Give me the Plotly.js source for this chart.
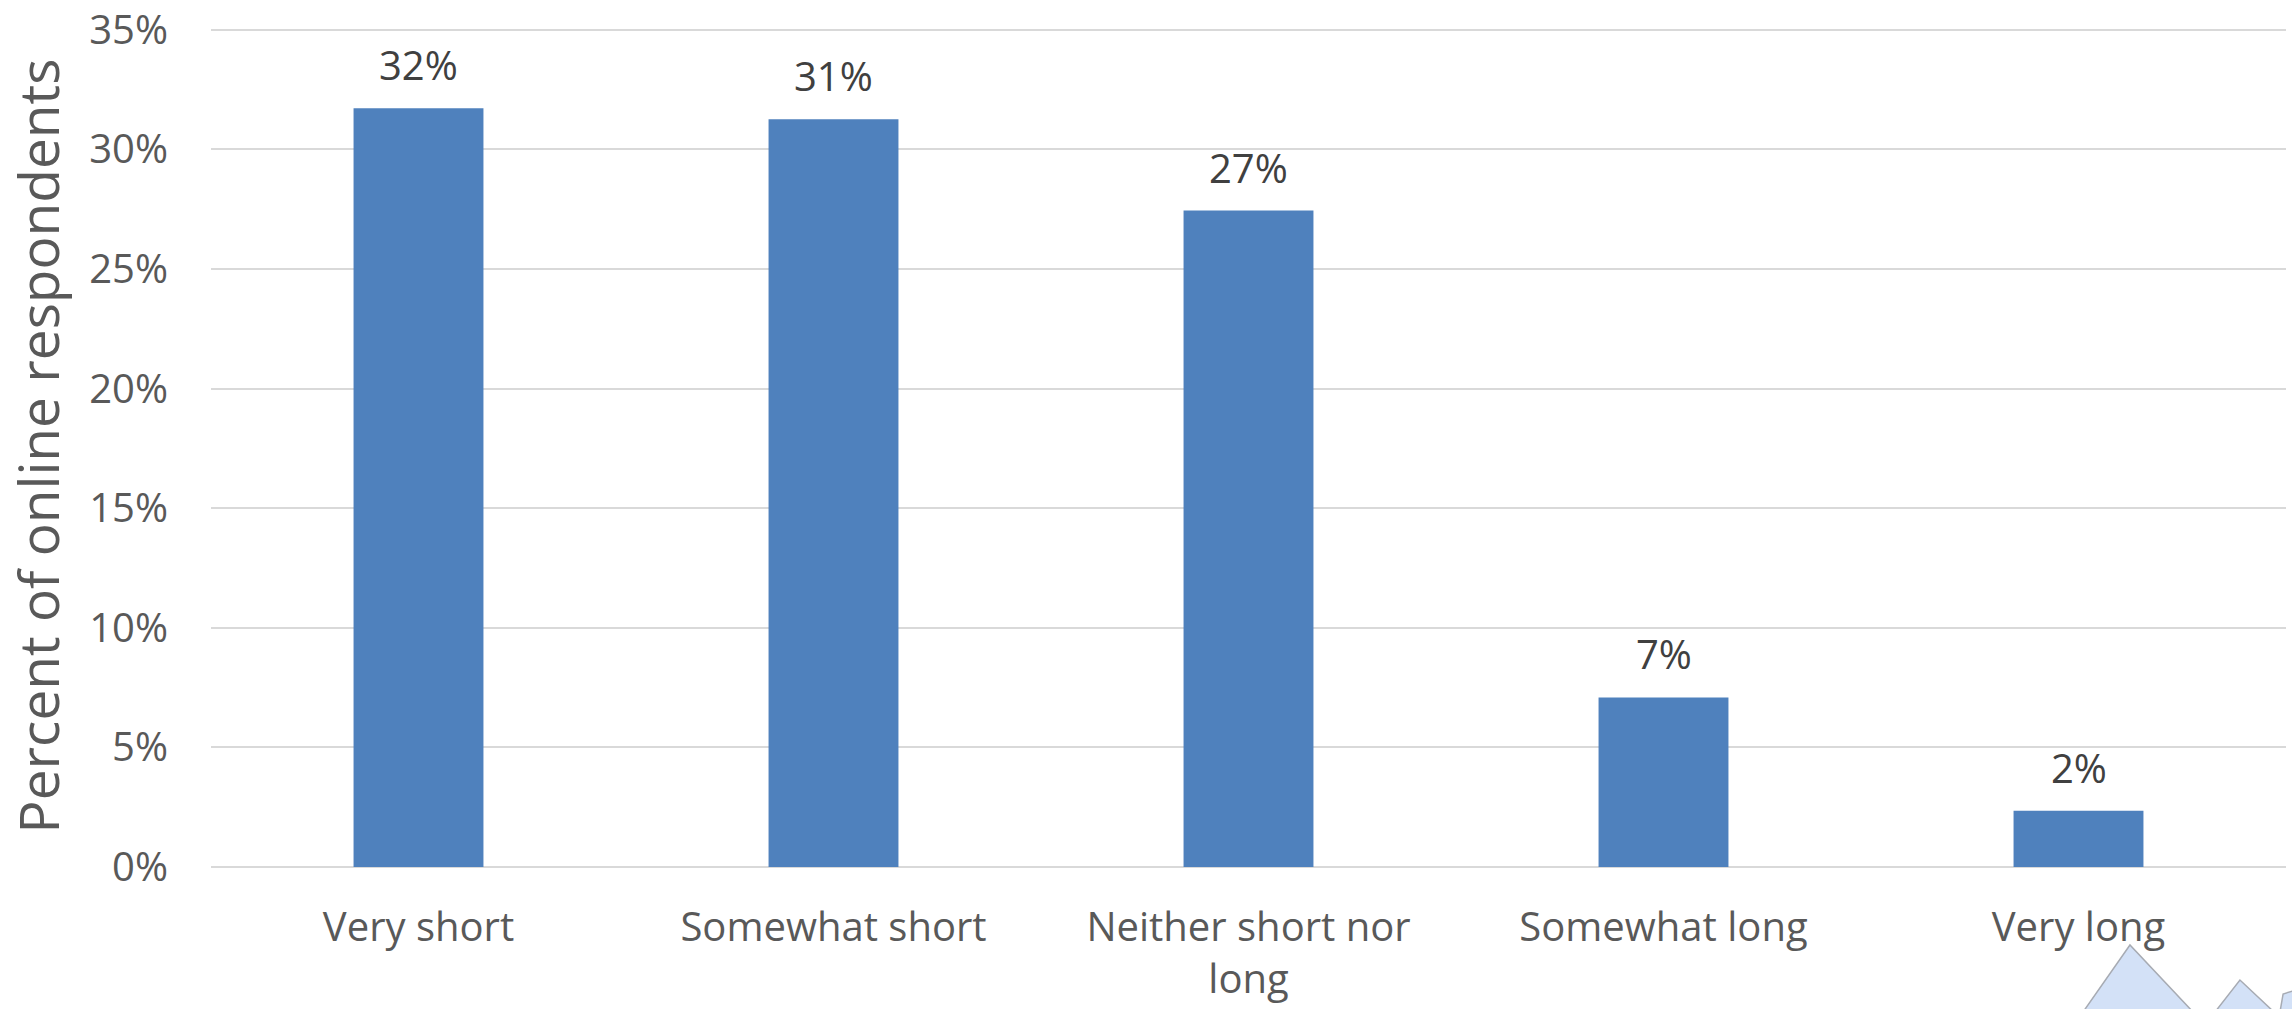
<!DOCTYPE html>
<html>
<head>
<meta charset="utf-8">
<script src="https://cdn.plot.ly/plotly-3.0.1.min.js"></script>
<style>
  html, body { margin: 0; padding: 0; background: #ffffff; }
  #chart { width: 2292px; height: 1009px; }
</style>
</head>
<body>
<div id="chart"></div>
<script>
// ---- data ----
const categories = ["Very short", "Somewhat short", "Neither short nor<br>long", "Somewhat long", "Very long"];
const percentValues = [0.3172, 0.3126, 0.2744, 0.0709, 0.0235];
const dataLabels = ["32%", "31%", "27%", "7%", "2%"];
const yTickValues = [0, 0.05, 0.10, 0.15, 0.20, 0.25, 0.30, 0.35];
const yTickLabels = ["0%", "5%", "10%", "15%", "20%", "25%", "30%", "35%"];
const yAxisTitle = "Percent of online respondents";

// ---- layout helpers ----
const W = 2292, H = 1009;
const M = { l: 211, r: 6, t: 25, b: 142 };
const plotW = W - M.l - M.r, plotH = H - M.t - M.b;
function px(x) { return (x - M.l) / plotW; }
function py(y) { return (H - M.b - y) / plotH; }
function pathFrom(pts) {
  return pts.map((p, i) => (i ? "L" : "M") + px(p[0]).toFixed(4) + "," + py(p[1]).toFixed(4)).join(" ") + " Z";
}

const FONT = "'Open Sans', 'Noto Sans', sans-serif";

const trace = {
  type: "bar",
  x: categories,
  y: percentValues,
  marker: { color: "#4F81BD", line: { width: 0 } },
  hoverinfo: "skip"
};

const annotations = categories.map((c, i) => ({
  x: c, y: percentValues[i], xref: "x", yref: "y",
  text: dataLabels[i], showarrow: false,
  yanchor: "bottom", yshift: 14,
  font: { family: FONT, size: 40, color: "#404040" }
}));

// decorative artifact bottom-right
const deco1 = pathFrom([[2083, 1012], [2130, 945], [2193, 1012]]);
const deco2 = pathFrom([[2215, 1012], [2240, 980], [2274, 1012]]);
const deco3 = pathFrom([[2280, 1012], [2283, 994], [2296, 990], [2296, 1012]]);
const decoStyle = { type: "path", xref: "paper", yref: "paper", fillcolor: "#D3E1F7",
  line: { color: "#A7ABB3", width: 1.5 }, layer: "above" };

const layout = {
  width: W, height: H,
  margin: M,
  paper_bgcolor: "#ffffff",
  plot_bgcolor: "#ffffff",
  showlegend: false,
  bargap: 0.687,
  font: { family: FONT, size: 40, color: "#595959" },
  xaxis: {
    type: "category",
    showgrid: false, zeroline: false, showline: false,
    ticks: "", ticklabelstandoff: 33,
    tickfont: { family: FONT, size: 40, color: "#595959" },
    automargin: false
  },
  yaxis: {
    range: [0, 0.352],
    tickvals: yTickValues, ticktext: yTickLabels,
    showgrid: true, gridcolor: "#D9D9D9", gridwidth: 2,
    zeroline: true, zerolinecolor: "#D9D9D9", zerolinewidth: 2,
    showline: false, ticks: "", ticklabelstandoff: 42,
    ticklabeloverflow: "allow",
    tickfont: { family: FONT, size: 40, color: "#595959" },
    title: { text: yAxisTitle, standoff: 14, font: { family: FONT, size: 55, color: "#595959" } },
    automargin: false
  },
  annotations: annotations,
  shapes: [
    Object.assign({ path: deco1 }, decoStyle),
    Object.assign({ path: deco2 }, decoStyle),
    Object.assign({ path: deco3 }, decoStyle)
  ]
};

Plotly.newPlot("chart", [trace], layout, { staticPlot: true, displayModeBar: false });
</script>
</body>
</html>
